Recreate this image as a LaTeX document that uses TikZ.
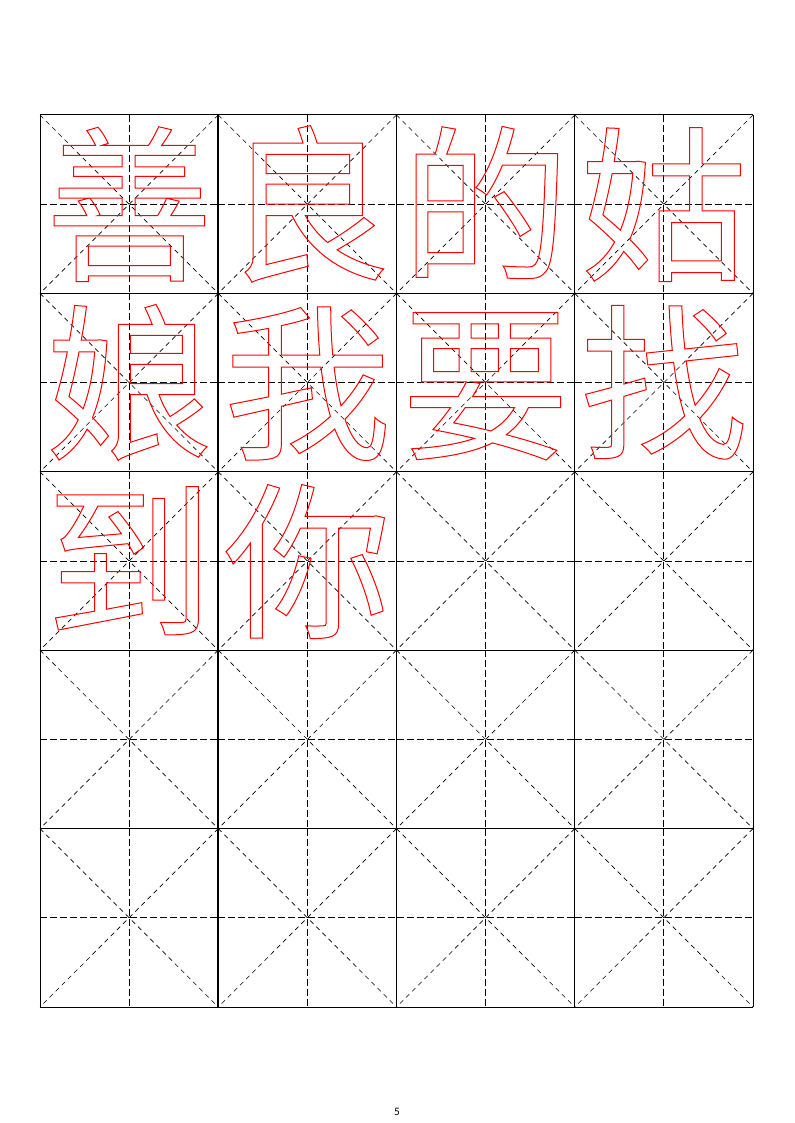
\documentclass[tikz,border=0pt]{standalone}
\usepackage{fontspec}
\newfontfamily\cjk{Noto Sans CJK SC}
\newfontfamily\pnfont{Carlito}
\tikzset{
  cellline/.style={black, line width=0.75pt},
  thickline/.style={black, line width=1.5pt},
  midline/.style={black, line width=0.6pt, dash pattern=on 5.25pt off 2.25pt},
  diagline/.style={black, line width=0.5pt, dash pattern=on 3.5pt off 3pt},
  glyph/.style={inner sep=0pt, anchor=base, text=red},
}
\newcommand{\outl}[1]{{\cjk\fontsize{126}{126}\selectfont\special{pdf:literal direct 1 Tr 0.75 w}#1\special{pdf:literal direct 0 Tr}}}
\begin{document}
\begin{tikzpicture}[x=0.75pt,y=-0.75pt]
\path[use as bounding box, fill=white] (0,0) rectangle (794,1123);
\def\xa{40}\def\cw{178.25}\def\ya{115}\def\ch{178.4}
% dashed guide lines
\foreach \i in {0,...,3}{
  \foreach \j in {0,...,4}{
    \pgfmathsetmacro\xl{\xa+\i*\cw}
    \pgfmathsetmacro\xr{\xa+(\i+1)*\cw}
    \pgfmathsetmacro\yt{\ya+\j*\ch}
    \pgfmathsetmacro\yb{\ya+(\j+1)*\ch}
    \pgfmathsetmacro\xm{\xa+(\i+0.5)*\cw}
    \pgfmathsetmacro\ym{\ya+(\j+0.5)*\ch}
    \draw[diagline] (\xl,\yt) -- (\xr,\yb);
    \draw[diagline] (\xr,\yt) -- (\xl,\yb);
    \draw[midline] (\xl,\ym) -- (\xr,\ym);
    \draw[midline] (\xm,\yt) -- (\xm,\yb);
  }
}
% solid cell lines
\foreach \i in {0,...,4}{
  \pgfmathsetmacro\xx{\xa+\i*\cw}
  \draw[cellline] (\xx,\ya) -- (\xx,\ya+5*\ch);
}
\foreach \j in {0,...,5}{
  \pgfmathsetmacro\yy{\ya+\j*\ch}
  \draw[cellline] (\xa,\yy) -- (\xa+4*\cw,\yy);
}
\draw[thickline] (\xa+\cw,\ya) -- (\xa+\cw,\ya+5*\ch);
% characters
\foreach \c/\i/\j [count=\n] in {善/0/0,良/1/0,的/2/0,姑/3/0,娘/0/1,我/1/1,要/2/1,找/3/1,到/0/2,你/1/2}{
  \pgfmathsetmacro\xm{\xa+(\i+0.5)*\cw}
  \pgfmathsetmacro\yb{\ya+(\j+0.5)*\ch+64}
  \node[glyph] (c\n) at (\xm,\yb) {\outl{\c}};
}
\node[inner sep=0pt] (pagenum) at (397,1112) {\pnfont\fontsize{8.5}{10}\selectfont 5};
\end{tikzpicture}
\end{document}
